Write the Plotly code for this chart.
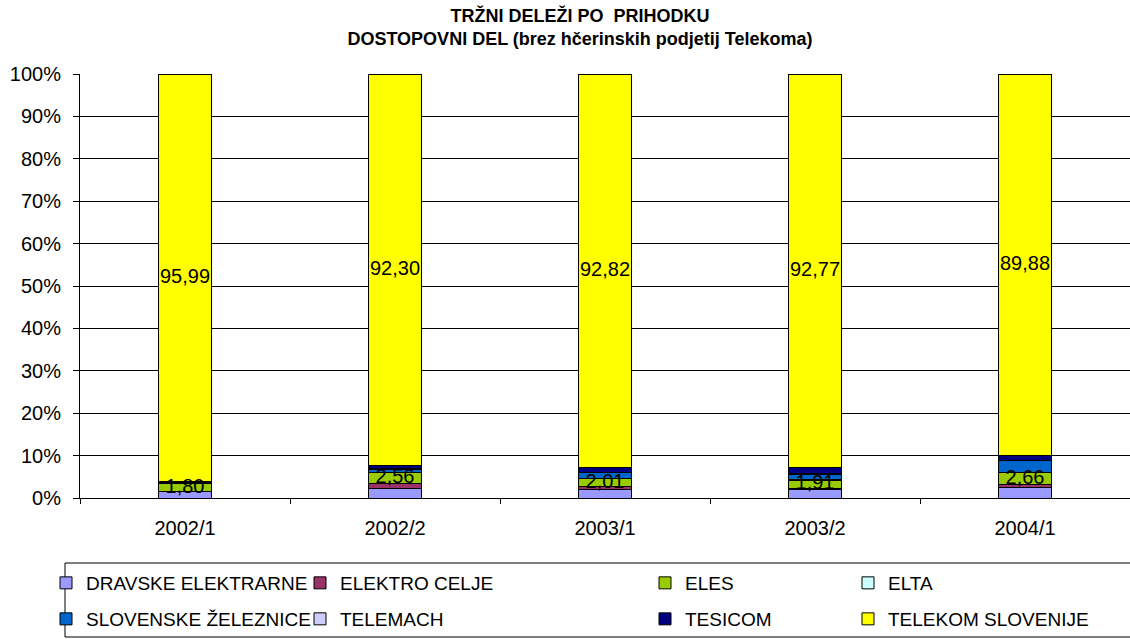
import plotly.graph_objects as go

categories = ["2002/1", "2002/2", "2003/1", "2003/2", "2004/1"]

dravske_elektrarne = [1.50, 2.35, 2.00, 2.00, 2.55]
elektro_celje = [0.05, 1.05, 0.60, 0.30, 0.70]
eles = [1.80, 2.56, 2.01, 1.91, 2.66]
elta = [0.05, 0.05, 0.05, 0.05, 0.05]
slovenske_zeleznice = [0.16, 0.80, 1.30, 1.40, 2.90]
telemach = [0.05, 0.05, 0.05, 0.05, 0.05]
tesicom = [0.39, 0.84, 1.17, 1.52, 1.21]
telekom_slovenije = [95.99, 92.30, 92.82, 92.77, 89.88]

series_names = ["DRAVSKE ELEKTRARNE", "ELEKTRO CELJE", "ELES", "ELTA",
                "SLOVENSKE ŽELEZNICE", "TELEMACH", "TESICOM", "TELEKOM SLOVENIJE"]
series_values = [dravske_elektrarne, elektro_celje, eles, elta,
                 slovenske_zeleznice, telemach, tesicom, telekom_slovenije]
series_colors = ["#9999FF", "#993366", "#99CC00", "#CCFFFF",
                 "#0066CC", "#CCCCFF", "#000080", "#FFFF00"]

y_tick_vals = [0, 10, 20, 30, 40, 50, 60, 70, 80, 90, 100]
y_tick_text = ["0%", "10%", "20%", "30%", "40%", "50%", "60%", "70%", "80%", "90%", "100%"]

FONT = "Liberation Sans, Arial, sans-serif"
FS = 20
LFS = 19

# plot-area geometry in pixels (for placing legends)
L, R, T, B = 80, 1130, 74, 498
W, H = R - L, B - T

def px_x(p):
    return (p - L) / W

def px_y(p):
    return (B - p) / H

# legend layout: (legend id, left px, center y px) -- columns x rows
legend_slots = [
    ("legend", 46, 583), ("legend2", 300, 583), ("legend3", 645, 583), ("legend4", 848, 583),
    ("legend5", 46, 619), ("legend6", 300, 619), ("legend7", 645, 619), ("legend8", 848, 619),
]

fig = go.Figure()
for i, (name, vals, col) in enumerate(zip(series_names, series_values, series_colors)):
    fig.add_trace(go.Bar(
        x=categories, y=vals, name=name,
        marker=dict(color=col, line=dict(color="black", width=1)),
        width=0.25,
        legend=legend_slots[i][0],
        hoverinfo="skip",
    ))

# data labels for ELES and TELEKOM SLOVENIJE (centered in segments)
eles_centers = [d + c + e / 2 for d, c, e in zip(dravske_elektrarne, elektro_celje, eles)]
others = [sum(v[k] for v in series_values[:-1]) for k in range(len(categories))]
tel_centers = [o + t / 2 for o, t in zip(others, telekom_slovenije)]

def fmt(v):
    return f"{v:.2f}".replace(".", ",")

fig.add_trace(go.Scatter(
    x=categories + categories,
    y=eles_centers + tel_centers,
    text=[fmt(v) for v in eles] + [fmt(v) for v in telekom_slovenije],
    mode="text",
    textposition="middle center",
    textfont=dict(family=FONT, size=FS, color="black"),
    showlegend=False, hoverinfo="skip", cliponaxis=False,
))

layout_legends = {}
for lid, lx, ly in legend_slots:
    layout_legends[lid] = dict(
        x=px_x(lx), xanchor="left", y=px_y(ly), yanchor="middle",
        orientation="v", traceorder="normal",
        font=dict(family=FONT, size=LFS, color="black"),
        bgcolor="rgba(0,0,0,0)", borderwidth=0,
    )

fig.update_layout(
    width=1130, height=639,
    margin=dict(l=L, r=1130 - R, t=T, b=639 - B, autoexpand=False),
    paper_bgcolor="white", plot_bgcolor="white",
    barmode="stack",
    font=dict(family=FONT, size=FS, color="black"),
    title=dict(
        text="<b>TRŽNI DELEŽI PO  PRIHODKU<br>DOSTOPOVNI DEL (brez hčerinskih podjetij Telekoma)</b>",
        x=580 / 1130, xanchor="center", xref="container",
        y=1 - 22 / 639, yanchor="top", yref="container",
        font=dict(family=FONT, size=18, color="black"),
    ),
    xaxis=dict(
        showline=True, linecolor="black", linewidth=1,
        ticks="outside", tickson="boundaries", ticklen=5, tickcolor="black",
        showgrid=False, tickfont=dict(family=FONT, size=FS, color="black"),
        ticklabelstandoff=12,
    ),
    yaxis=dict(
        range=[0, 100], tickvals=y_tick_vals, ticktext=y_tick_text,
        showline=True, linecolor="black", linewidth=1,
        ticks="outside", ticklen=6, tickcolor="black",
        showgrid=True, gridcolor="black", gridwidth=1,
        zeroline=False, tickfont=dict(family=FONT, size=FS, color="black"),
        ticklabelstandoff=8,
    ),
    shapes=[dict(
        type="rect", xref="paper", yref="paper",
        x0=px_x(65), x1=px_x(1140), y0=px_y(637), y1=px_y(563),
        line=dict(color="black", width=1), fillcolor="rgba(0,0,0,0)",
        layer="above",
    )],
    **layout_legends,
)

fig.write_html("out.html", config={"displayModeBar": False},
               post_script="document.body.style.margin='0';")
